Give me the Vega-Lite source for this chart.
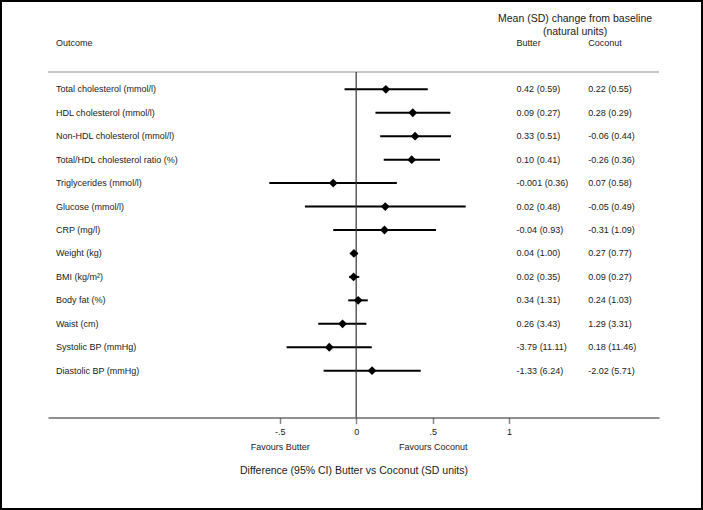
{
  "$schema": "https://vega.github.io/schema/vega-lite/v6.json",
  "width": 703,
  "height": 510,
  "autosize": "none",
  "padding": 0,
  "config": {
    "view": {"stroke": "#000", "strokeWidth": 4},
    "font": "Liberation Sans",
    "text": {"font": "Liberation Sans", "fontSize": 9, "color": "#1a1a1a"}
  },
  "datasets": {
    "rows": [
      {"row": 1, "outcome": "Total cholesterol (mmol/l)", "est": 0.194, "lo": -0.076, "hi": 0.468, "butter": "0.42 (0.59)", "coconut": "0.22 (0.55)"},
      {"row": 2, "outcome": "HDL cholesterol (mmol/l)", "est": 0.37, "lo": 0.126, "hi": 0.616, "butter": "0.09 (0.27)", "coconut": "0.28 (0.29)"},
      {"row": 3, "outcome": "Non-HDL cholesterol (mmol/l)", "est": 0.385, "lo": 0.157, "hi": 0.62, "butter": "0.33 (0.51)", "coconut": "-0.06 (0.44)"},
      {"row": 4, "outcome": "Total/HDL cholesterol ratio (%)", "est": 0.363, "lo": 0.18, "hi": 0.548, "butter": "0.10 (0.41)", "coconut": "-0.26 (0.36)"},
      {"row": 5, "outcome": "Triglycerides (mmol/l)", "est": -0.15, "lo": -0.568, "hi": 0.266, "butter": "-0.001 (0.36)", "coconut": "0.07 (0.58)"},
      {"row": 6, "outcome": "Glucose (mmol/l)", "est": 0.19, "lo": -0.335, "hi": 0.716, "butter": "0.02 (0.48)", "coconut": "-0.05 (0.49)"},
      {"row": 7, "outcome": "CRP (mg/l)", "est": 0.185, "lo": -0.15, "hi": 0.522, "butter": "-0.04 (0.93)", "coconut": "-0.31 (1.09)"},
      {"row": 8, "outcome": "Weight (kg)", "est": -0.015, "lo": -0.035, "hi": 0.011, "butter": "0.04 (1.00)", "coconut": "0.27 (0.77)"},
      {"row": 9, "outcome": "BMI (kg/m²)", "est": -0.017, "lo": -0.046, "hi": 0.02, "butter": "0.02 (0.35)", "coconut": "0.09 (0.27)"},
      {"row": 10, "outcome": "Body fat (%)", "est": 0.013, "lo": -0.052, "hi": 0.076, "butter": "0.34 (1.31)", "coconut": "0.24 (1.03)"},
      {"row": 11, "outcome": "Waist (cm)", "est": -0.089, "lo": -0.248, "hi": 0.067, "butter": "0.26 (3.43)", "coconut": "1.29 (3.31)"},
      {"row": 12, "outcome": "Systolic BP (mmHg)", "est": -0.176, "lo": -0.455, "hi": 0.102, "butter": "-3.79 (11.11)", "coconut": "0.18 (11.46)"},
      {"row": 13, "outcome": "Diastolic BP (mmHg)", "est": 0.104, "lo": -0.213, "hi": 0.422, "butter": "-1.33 (6.24)", "coconut": "-2.02 (5.71)"}
    ]
  },
  "layer": [
    {
      "data": {"name": "rows"},
      "mark": {"type": "rule", "color": "#000", "strokeWidth": 2},
      "encoding": {
        "x": {
          "field": "lo", "type": "quantitative",
          "scale": {"domain": [-2.015, 1.98], "range": [48, 659], "nice": false, "zero": false},
          "axis": {
            "values": [-0.5, 0, 0.5, 1],
            "labelExpr": "datum.value == -0.5 ? ['-.5', 'Favours Butter'] : datum.value == 0.5 ? ['.5', 'Favours Coconut'] : datum.value == 0 ? '0' : '1'",
            "offset": -92.5,
            "grid": false,
            "domainColor": "#222",
            "domainWidth": 1.2,
            "tickColor": "#888",
            "tickWidth": 1.5,
            "tickSize": 6,
            "labelFont": "Liberation Sans",
            "labelFontSize": 9,
            "labelColor": "#1a1a1a",
            "labelPadding": 4,
            "labelLineHeight": 14.5,
            "labelOverlap": false,
            "labelFlush": false,
            "labelBound": false,
            "title": "Difference (95% CI) Butter vs Coconut (SD units)",
            "titleFont": "Liberation Sans",
            "titleFontSize": 10.5,
            "titleFontWeight": "normal",
            "titleColor": "#1a1a1a",
            "titlePadding": 14
          }
        },
        "x2": {"field": "hi"},
        "y": {
          "field": "row", "type": "quantitative",
          "scale": {"domain": [0, 15], "range": [65.85, 417.6], "nice": false, "zero": false},
          "axis": null
        }
      }
    },
    {
      "data": {"values": [{}]},
      "mark": {"type": "rule", "color": "#c8c8c8", "strokeWidth": 2},
      "encoding": {
        "x": {"datum": -2.015, "type": "quantitative"},
        "x2": {"datum": 1.98},
        "y": {"datum": 0.26, "type": "quantitative"}
      }
    },
    {
      "data": {"values": [{}]},
      "mark": {"type": "rule", "color": "#333", "strokeWidth": 1.2},
      "encoding": {
        "x": {"datum": 0, "type": "quantitative"},
        "y": {"datum": 0.26, "type": "quantitative"},
        "y2": {"datum": 15}
      }
    },
    {
      "data": {"name": "rows"},
      "mark": {"type": "point", "shape": "diamond", "filled": true, "color": "#000", "size": 78, "opacity": 1},
      "encoding": {
        "x": {"field": "est", "type": "quantitative"},
        "y": {"field": "row", "type": "quantitative"}
      }
    },
    {
      "data": {"name": "rows"},
      "mark": {"type": "text", "align": "left", "baseline": "middle"},
      "encoding": {
        "x": {"datum": -1.963, "type": "quantitative"},
        "y": {"field": "row", "type": "quantitative"},
        "text": {"field": "outcome"}
      }
    },
    {
      "data": {"name": "rows"},
      "mark": {"type": "text", "align": "left", "baseline": "middle"},
      "encoding": {
        "x": {"datum": 1.049, "type": "quantitative"},
        "y": {"field": "row", "type": "quantitative"},
        "text": {"field": "butter"}
      }
    },
    {
      "data": {"name": "rows"},
      "mark": {"type": "text", "align": "left", "baseline": "middle"},
      "encoding": {
        "x": {"datum": 1.518, "type": "quantitative"},
        "y": {"field": "row", "type": "quantitative"},
        "text": {"field": "coconut"}
      }
    },
    {
      "data": {"values": [{}]},
      "mark": {"type": "text", "align": "left", "baseline": "middle", "text": "Outcome"},
      "encoding": {
        "x": {"datum": -1.963, "type": "quantitative"},
        "y": {"datum": -0.97, "type": "quantitative"}
      }
    },
    {
      "data": {"values": [{}]},
      "mark": {"type": "text", "align": "left", "baseline": "middle", "text": "Butter"},
      "encoding": {
        "x": {"datum": 1.049, "type": "quantitative"},
        "y": {"datum": -0.97, "type": "quantitative"}
      }
    },
    {
      "data": {"values": [{}]},
      "mark": {"type": "text", "align": "left", "baseline": "middle", "text": "Coconut"},
      "encoding": {
        "x": {"datum": 1.518, "type": "quantitative"},
        "y": {"datum": -0.97, "type": "quantitative"}
      }
    },
    {
      "data": {"values": [{}]},
      "mark": {"type": "text", "align": "center", "baseline": "middle", "fontSize": 10.5, "text": "Mean (SD) change from baseline"},
      "encoding": {
        "x": {"datum": 1.431, "type": "quantitative"},
        "y": {"datum": -2.0, "type": "quantitative"}
      }
    },
    {
      "data": {"values": [{}]},
      "mark": {"type": "text", "align": "center", "baseline": "middle", "fontSize": 10.5, "text": "(natural units)"},
      "encoding": {
        "x": {"datum": 1.431, "type": "quantitative"},
        "y": {"datum": -1.44, "type": "quantitative"}
      }
    }
  ]
}
